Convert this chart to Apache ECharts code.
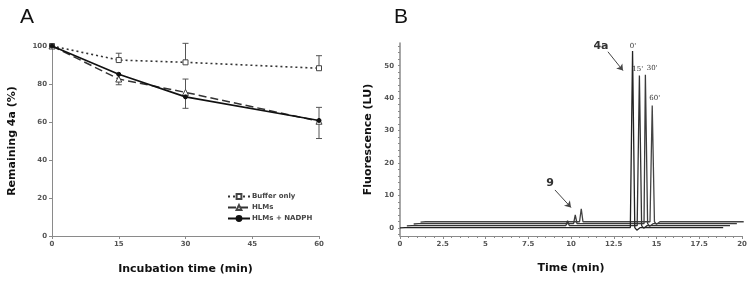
<!DOCTYPE html>
<html><head><meta charset="utf-8">
<script src="https://cdn.jsdelivr.net/npm/echarts@6/dist/echarts.min.js"></script>
<style>html,body{margin:0;padding:0;background:#fff}#c{width:752px;height:282px}</style>
</head><body><div id="c"></div>
<script>
// ---- Panel A data ----
const timesA = [0, 15, 30, 60];
const bufferOnly = [100, 92.6, 91.4, 88.3];
const bufferErrUp = [0, 3.6, 10, 6.6];
const bufferErrDown = [0, 0, 0, 0];
const hlms = [100, 82.6, 75.6, 60.4];
const hlmsErrUp = [0, 0, 7, 7.3];
const hlmsErrDown = [0, 3, 0, 0];
const hlmsNadph = [100, 85.1, 73.2, 60.8];
const nadphErrUp = [0, 0, 0, 0];
const nadphErrDown = [0, 0, 6, 9.5];
const xTicksA = [0, 15, 30, 45, 60];
const yTicksA = [0, 20, 40, 60, 80, 100];

// ---- Panel B data (raw time, signal) per incubation time trace ----
const traceNames = ["0'", "15'", "30'", "60'"];
const traceOffsetX = [0, 0.4, 0.8, 1.2];
const traceOffsetY = [0, 0.6, 1.2, 1.8];
const trace0 = [[0,0],[0.3,0.1],[8.2,0.1],[8.3,0.4],[8.4,0.1],[11.8,0.1],[11.9,0.3],[12.0,0.1],[13.47,0.1],[13.6,54.5],[13.73,0.1],[13.85,-0.7],[14.05,0.1],[18.9,0.1]];
const trace15 = [[0,0],[0.3,0.1],[9.3,0.1],[9.4,1.6],[9.5,0.1],[11.8,0.1],[11.9,0.3],[12.0,0.1],[13.47,0.1],[13.6,46.4],[13.73,0.1],[13.85,-0.7],[14.05,0.1],[18.9,0.1]];
const trace30 = [[0,0],[0.3,0.1],[9.35,0.1],[9.45,2.8],[9.55,0.1],[11.8,0.1],[11.9,0.3],[12.0,0.1],[13.47,0.1],[13.55,46.0],[13.68,0.1],[13.8,-0.7],[14.0,0.1],[18.9,0.1]];
const trace60 = [[0,0],[0.3,0.1],[9.3,0.1],[9.4,4.1],[9.5,0.1],[11.8,0.1],[11.9,0.3],[12.0,0.1],[13.42,0.1],[13.55,35.9],[13.68,0.1],[13.8,-0.7],[14.0,0.1],[18.9,0.1]];
const traces = [trace0, trace15, trace30, trace60];
const yTicksB = [0, 10, 20, 30, 40, 50];
const yMinorB = [-2,0,2,4,6,8,10,12,14,16,18,20,22,24,26,28,30,32,34,36,38,40,42,44,46,48,50,52,54,56];
// annotation positions (data coords)
const peakLabelPos = [[13.62, 56.0], [13.9, 49.0], [14.75, 49.2], [14.9, 40.0]];
const label4a = [11.75, 56.0];
const arrow4a = [[12.16, 54.3], [13.04, 48.5]];
const label9 = [8.77, 13.9];
const arrow9 = [[9.06, 11.7], [10.0, 6.3]];

const FONT = 'DejaVu Sans';
const axisCol = '#8a8a8a';
const tickLabel = {fontFamily: FONT, fontSize: 7, fontWeight: 'bold', color: '#555'};

function errSeries(name, ys, up, down) {
  return {
    type: 'custom', xAxisIndex: 0, yAxisIndex: 0, silent: true, z: 1,
    data: timesA.map((t, i) => [t, ys[i], up[i], down[i]]),
    renderItem: function (params, api) {
      const x = api.value(0), y = api.value(1), u = api.value(2), d = api.value(3);
      if (!u && !d) return null;
      const top = api.coord([x, y + u]), bot = api.coord([x, y - d]);
      const ch = [];
      const st = {stroke: '#555', lineWidth: 1};
      ch.push({type: 'line', shape: {x1: top[0], y1: top[1], x2: bot[0], y2: bot[1]}, style: st});
      if (u) ch.push({type: 'line', shape: {x1: top[0]-3, y1: top[1], x2: top[0]+3, y2: top[1]}, style: st});
      if (d) ch.push({type: 'line', shape: {x1: bot[0]-3, y1: bot[1], x2: bot[0]+3, y2: bot[1]}, style: st});
      return {type: 'group', children: ch};
    }
  };
}

const traceColors = ['#222', '#333', '#3c3c3c', '#444'];
const traceSeries = traces.map((tr, k) => ({
  type: 'line', xAxisIndex: 1, yAxisIndex: 1, name: traceNames[k],
  data: tr.map(p => [p[0] + traceOffsetX[k], p[1] + traceOffsetY[k]]),
  showSymbol: false, symbol: 'none', silent: true, animation: false,
  lineStyle: {color: traceColors[k], width: 1.3}, z: 10 - k
}));

// annotation series
traceSeries[0].markPoint = {
  symbol: 'circle', symbolSize: 0, silent: true, animation: false,
  label: {show: true, fontFamily: 'DejaVu Serif', fontSize: 7, color: '#333', position: 'inside'},
  data: peakLabelPos.map((p, i) => ({coord: p, value: traceNames[i], label: {formatter: traceNames[i]}}))
    .concat([
      {coord: label4a, label: {formatter: '4a', fontFamily: FONT, fontSize: 11, fontWeight: 'bold', color: '#333'}},
      {coord: label9, label: {formatter: '9', fontFamily: FONT, fontSize: 11, fontWeight: 'bold', color: '#333'}}
    ])
};
traceSeries[0].markLine = {
  silent: true, animation: false, symbol: ['none', 'arrow'], symbolSize: 6,
  lineStyle: {color: '#444', type: 'solid', width: 1},
  label: {show: false},
  data: [
    [{coord: arrow4a[0]}, {coord: arrow4a[1]}],
    [{coord: arrow9[0]}, {coord: arrow9[1]}]
  ]
};

const option = {
  animation: false,
  backgroundColor: '#fff',
  title: [
    {text: 'A', left: 15, top: 2, textStyle: {fontFamily: 'Liberation Sans', fontSize: 21, fontWeight: 'normal', color: '#111'}},
    {text: 'B', left: 389, top: 2, textStyle: {fontFamily: 'Liberation Sans', fontSize: 21, fontWeight: 'normal', color: '#111'}}
  ],
  legend: {
    left: 222, top: 188, orient: 'vertical', itemGap: 4, itemWidth: 22, itemHeight: 6,
    textStyle: {fontFamily: FONT, fontSize: 7, fontWeight: 'bold', color: '#444', padding: [0,0,0,-3]},
    data: ['Buffer only', 'HLMs', 'HLMs + NADPH']
  },
  grid: [
    {left: 52, top: 46, width: 267, height: 190},
    {left: 400, top: 43, width: 342, height: 193}
  ],
  xAxis: [
    {gridIndex: 0, type: 'value', min: 0, max: 60, interval: 15,
     name: 'Incubation time (min)', nameLocation: 'middle', nameGap: 28,
     nameTextStyle: {fontFamily: FONT, fontSize: 11, fontWeight: 'bold', color: '#111'},
     axisLine: {lineStyle: {color: axisCol}}, axisTick: {show: true, length: 3, inside: false, lineStyle: {color: axisCol}},
     axisLabel: Object.assign({margin: 5, customValues: xTicksA}, tickLabel), splitLine: {show: false}},
    {gridIndex: 1, type: 'value', min: 0, max: 20, interval: 2.5,
     name: 'Time (min)', nameLocation: 'middle', nameGap: 27,
     nameTextStyle: {fontFamily: FONT, fontSize: 11, fontWeight: 'bold', color: '#111'},
     axisLine: {onZero: false, lineStyle: {color: axisCol}}, axisTick: {length: 3, lineStyle: {color: axisCol}},
     minorTick: {show: true, splitNumber: 5, length: 2, lineStyle: {color: axisCol}},
     axisLabel: Object.assign({margin: 5, formatter: v => String(v)}, tickLabel), splitLine: {show: false}}
  ],
  yAxis: [
    {gridIndex: 0, type: 'value', min: 0, max: 100, interval: 20,
     name: 'Remaining 4a (%)', nameLocation: 'middle', nameGap: 34,
     nameTextStyle: {fontFamily: FONT, fontSize: 11, fontWeight: 'bold', color: '#111'},
     axisLine: {show: true, lineStyle: {color: axisCol}}, axisTick: {show: true, length: 3, lineStyle: {color: axisCol}},
     axisLabel: Object.assign({margin: 5, customValues: yTicksA}, tickLabel), splitLine: {show: false}},
    {gridIndex: 1, type: 'value', min: -2.5, max: 57,
     name: 'Fluorescence (LU)', nameLocation: 'middle', nameGap: 26,
     nameTextStyle: {fontFamily: FONT, fontSize: 11, fontWeight: 'bold', color: '#111'},
     axisLine: {show: true, onZero: false, lineStyle: {color: axisCol, width: 1.5}},
     axisTick: {show: true, length: 2, customValues: yMinorB, lineStyle: {color: axisCol}},
     axisLabel: Object.assign({margin: 6, customValues: yTicksB}, tickLabel), splitLine: {show: false}}
  ],
  series: [
    errSeries('eb', bufferOnly, bufferErrUp, bufferErrDown),
    errSeries('eh', hlms, hlmsErrUp, hlmsErrDown),
    errSeries('en', hlmsNadph, nadphErrUp, nadphErrDown),
    {name: 'Buffer only', type: 'line', xAxisIndex: 0, yAxisIndex: 0,
     data: timesA.map((t, i) => [t, bufferOnly[i]]),
     symbol: 'rect', symbolSize: 5, showAllSymbol: true,
     lineStyle: {color: '#333', width: 1.6, type: [2, 3]},
     itemStyle: {color: '#fff', borderColor: '#444', borderWidth: 1}, z: 3},
    {name: 'HLMs', type: 'line', xAxisIndex: 0, yAxisIndex: 0,
     data: timesA.map((t, i) => [t, hlms[i]]),
     symbol: 'triangle', symbolSize: 6,
     lineStyle: {color: '#333', width: 1.5, type: [8, 4]},
     itemStyle: {color: '#fff', borderColor: '#444', borderWidth: 1}, z: 3},
    {name: 'HLMs + NADPH', type: 'line', xAxisIndex: 0, yAxisIndex: 0,
     data: timesA.map((t, i) => [t, hlmsNadph[i]]),
     symbol: 'circle', symbolSize: 4,
     lineStyle: {color: '#111', width: 1.7, type: 'solid'},
     itemStyle: {color: '#111', borderColor: '#111', borderWidth: 1}, z: 4}
  ].concat(traceSeries)
};

const chart = echarts.init(document.getElementById('c'), null, {renderer: 'canvas'});
chart.setOption(option);
</script></body></html>
